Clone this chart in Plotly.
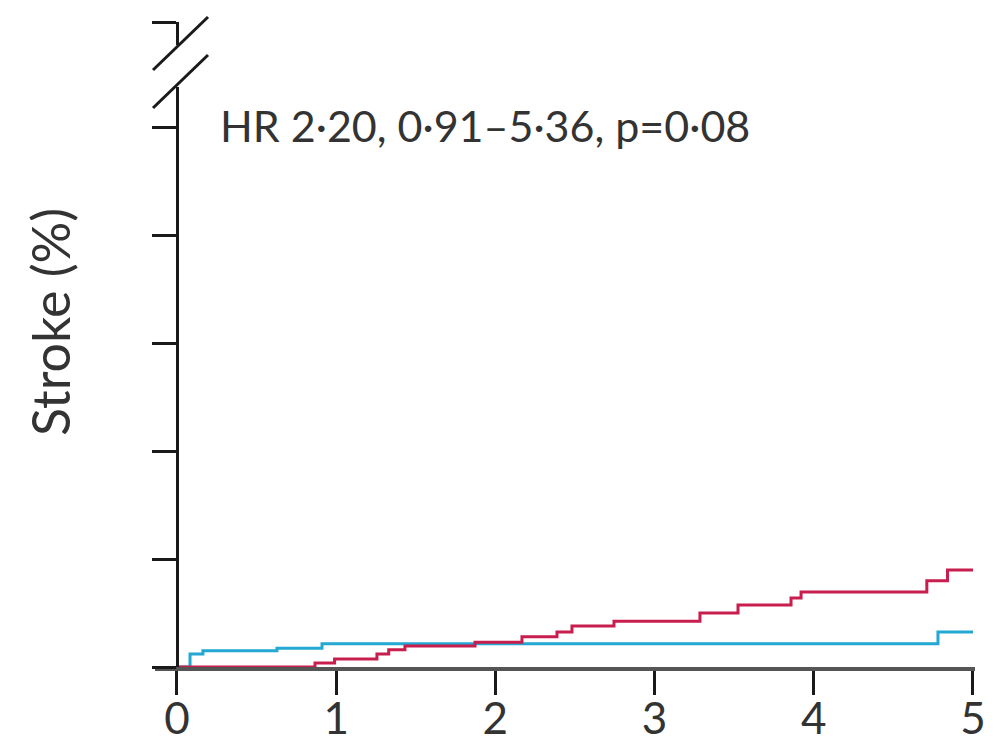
import plotly.graph_objects as go

# Data (years, stroke %)
blue_x = [0, 0.082, 0.163, 0.628, 0.911, 4.78, 5.0]
blue_y = [0, 0.24, 0.30, 0.35, 0.43, 0.65, 0.65]
red_x = [0, 0.867, 0.99, 1.256, 1.33, 1.432, 1.872, 2.167, 2.387, 2.481, 2.745,
         3.285, 3.524, 3.857, 3.92, 4.71, 4.84, 5.0]
red_y = [0, 0.074, 0.15, 0.24, 0.32, 0.39, 0.46, 0.56, 0.65, 0.76, 0.85,
         1.00, 1.15, 1.28, 1.39, 1.60, 1.80, 1.80]
x_ticks = [0, 1, 2, 3, 4, 5]
y_ticks = [0, 2, 4, 6, 8, 10]
annotation_text = "HR 2·20, 0·91–5·36, p=0·08"
y_title = "Stroke (%)"

BLUE = "#22a8d2"
RED = "#c81e4e"
AXIS = "#1a1a1a"
TXT = "#333333"
FONT = "Lato"

W, H = 1002, 742
ML, MR, MT, MB = 155, 27, 22, 75
PW = W - ML - MR
PH = H - MT - MB

def px_x(px):
    return (px - ML) / PW

def px_y(py):
    return (H - MB - py) / PH

fig = go.Figure()
fig.add_trace(go.Scatter(x=blue_x, y=blue_y, mode="lines", line=dict(color=BLUE, width=3, shape="hv"),
                         showlegend=False, hoverinfo="skip"))
fig.add_trace(go.Scatter(x=red_x, y=red_y, mode="lines", line=dict(color=RED, width=3, shape="hv"),
                         showlegend=False, hoverinfo="skip"))
# invisible trace for the upper (broken) axis segment
fig.add_trace(go.Scatter(x=[None], y=[None], yaxis="y2", showlegend=False, hoverinfo="skip"))

ypos = px_x(177)
fig.update_layout(
    width=W, height=H, autosize=False,
    margin=dict(l=ML, r=MR, t=MT, b=MB, autoexpand=False),
    paper_bgcolor="white", plot_bgcolor="white",
    font=dict(family=FONT, color=TXT),
    xaxis=dict(range=[-0.138, 5.0126], tickvals=x_ticks, ticktext=[str(v) for v in x_ticks],
               showline=True, linecolor="#555555", linewidth=4, ticks="outside", ticklen=24,
               tickwidth=3, tickcolor=AXIS, showgrid=False, zeroline=False, automargin=False,
               ticklabelstandoff=-14,
               tickfont=dict(size=44, family=FONT, color=TXT), anchor="y"),
    yaxis=dict(range=[0, 10.76], domain=[0, px_y(87)], tickvals=y_ticks, showticklabels=False,
               showline=True, linecolor=AXIS, linewidth=3, ticks="outside", ticklen=24,
               tickwidth=3, tickcolor=AXIS, showgrid=False, zeroline=False, automargin=False,
               anchor="free", position=ypos),
    yaxis2=dict(range=[95, 100], domain=[px_y(45), 1.0], tickvals=[100], showticklabels=False,
                showline=True, linecolor=AXIS, linewidth=3, ticks="outside", ticklen=24,
                tickwidth=3, tickcolor=AXIS, showgrid=False, zeroline=False, automargin=False,
                anchor="free", position=ypos),
    shapes=[
        dict(type="line", xref="paper", yref="paper", x0=px_x(153), y0=px_y(70), x1=px_x(208), y1=px_y(17),
             line=dict(color=AXIS, width=3)),
        dict(type="line", xref="paper", yref="paper", x0=px_x(153), y0=px_y(108), x1=px_x(208), y1=px_y(55),
             line=dict(color=AXIS, width=3)),
    ],
    annotations=[
        dict(text=annotation_text, xref="paper", yref="paper", x=px_x(218), y=px_y(125),
             xanchor="left", yanchor="middle", showarrow=False,
             font=dict(size=43, family=FONT, color=TXT)),
        dict(text=y_title, xref="paper", yref="paper", x=px_x(50), y=px_y(322),
             xanchor="center", yanchor="middle", showarrow=False, textangle=-90,
             font=dict(size=52, family=FONT, color=TXT)),
    ],
)

fig.write_html("out.html", config={"displayModeBar": False},
               post_script="document.body.style.margin='0';document.body.style.padding='0';")
